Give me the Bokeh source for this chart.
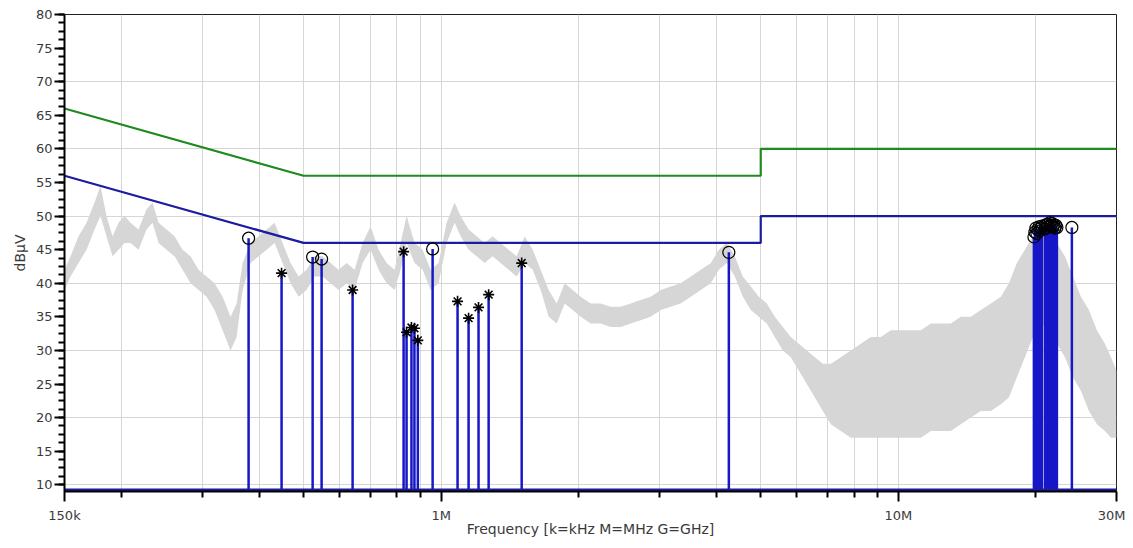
from bokeh.plotting import figure
from bokeh.models import Range1d, FixedTicker, SingleIntervalTicker
from bokeh.embed import file_html
from bokeh.resources import INLINE

# ---- limit lines (MHz, dBuV) ----
limit_freq = [0.15, 0.5, 5.0, 5.0, 30.0]
qp_limit = [66, 56, 56, 60, 60]
av_limit = [56, 46, 46, 50, 50]

# ---- spectrum trace envelope (MHz, dBuV) ----
trace_freq = [0.1500, 0.1546, 0.1610, 0.1676, 0.1745, 0.1798, 0.1853, 0.1911, 0.1969, 0.2030,
              0.2092, 0.2178, 0.2268, 0.2337, 0.2409, 0.2508, 0.2611, 0.2719, 0.2830, 0.2947,
              0.3068, 0.3194, 0.3326, 0.3462, 0.3569, 0.3678, 0.3829, 0.3987, 0.4151, 0.4322,
              0.4499, 0.4684, 0.4877, 0.5077, 0.5286, 0.5503, 0.5730, 0.5965, 0.6210, 0.6466,
              0.6731, 0.7008, 0.7296, 0.7597, 0.7909, 0.8151, 0.8402, 0.8747, 0.9107, 0.9481,
              0.9871, 1.0277, 1.0700, 1.1028, 1.1481, 1.1954, 1.2445, 1.2956, 1.3490, 1.4044,
              1.4627, 1.5228, 1.5855, 1.6506, 1.7184, 1.7893, 1.8626, 1.9391, 2.0188, 2.1232,
              2.2330, 2.3484, 2.4699, 2.5975, 2.7318, 2.8732, 3.0217, 3.1779, 3.3421, 3.5149,
              3.6967, 3.8881, 4.0480, 4.2145, 4.3881, 4.5686, 4.7564, 4.9521, 5.1559, 5.3676,
              5.5880, 5.8177, 6.0570, 6.3060, 6.5658, 6.8355, 7.1169, 7.4851, 7.8713, 8.2781,
              8.7054, 9.1553, 9.6279, 10.125, 10.648, 11.199, 11.777, 12.385, 13.024, 13.695,
              14.405, 15.152, 15.934, 16.758, 17.449, 18.165, 18.916, 19.692, 20.500, 21.343,
              22.221, 23.136, 24.087, 25.078, 26.110, 27.186, 28.303, 29.170, 30.0]
trace_lo = [39, 41, 43, 45, 48, 50, 47, 44, 45, 46,
            46, 45, 48, 49, 46, 45, 44, 42, 40, 39,
            38, 36, 33, 30, 32, 39, 43, 44, 45, 46,
            43, 40, 38, 39, 41, 41, 40, 39, 40, 39,
            43, 45, 42, 40, 39, 42, 46, 43, 42, 39,
            40, 46, 49, 47, 45, 44, 43, 44, 43, 42,
            41, 43, 42, 39, 35, 34, 37, 36, 35, 34,
            34, 33.5, 33.5, 34, 34.5, 35, 36, 36.5, 37, 38,
            39, 40, 42, 43, 41, 38, 36, 35, 34, 32,
            30, 29, 27, 25, 23, 21, 19, 18, 17, 17,
            17, 17, 17, 17, 17, 17, 18, 18, 18, 19,
            20, 21, 21, 22, 23, 26, 29, 32, 34, 33,
            31, 29, 26, 24, 21, 19, 18, 17, 17]
trace_hi = [42, 44, 47, 49, 52, 54.5, 50, 47, 49, 50,
            49, 48, 51, 52, 49, 48, 47, 45, 44, 42,
            41, 40, 38, 35, 37, 43, 46, 47, 48, 49,
            46, 43, 41, 42, 44, 44, 43, 42, 43, 42,
            46, 48.5, 45, 43, 42, 46, 50, 46, 45, 42,
            43, 49, 52, 50, 48, 47, 46, 47, 46, 45,
            44, 47, 45, 42, 39, 37, 40, 39, 38, 37,
            37, 36.5, 36.5, 37, 37.5, 38, 39, 39.5, 40, 41,
            42, 43, 45, 46, 44, 41, 39.5, 38, 37, 35,
            33.5, 32, 31, 30, 29, 28, 28, 29, 30, 31,
            32, 32, 33, 33, 33, 33, 34, 34, 34, 35,
            35, 36, 37, 38, 40, 43, 45, 47, 48, 47,
            46, 44, 41, 38, 36, 33, 31, 29, 27]

# ---- final measurement results ----
baseline_level = 9.2
qp_freq = [0.3791, 0.5234, 0.5476, 0.9578, 4.258,
           19.79, 19.89, 19.99, 20.09, 20.19, 20.29, 20.39, 20.50, 20.60,
           20.92, 21.02, 21.13, 21.23, 21.34, 21.45, 21.56, 21.67, 21.78,
           21.89, 22.00, 22.11, 22.22, 23.96]
qp_level = [46.7, 43.9, 43.6, 45.1, 44.6,
            46.9, 47.6, 48.2, 47.4, 48.0, 48.4, 47.8, 48.2, 48.5,
            48.1, 48.7, 48.3, 48.8, 48.5, 49.0, 48.6, 48.9, 48.4,
            48.7, 48.2, 48.6, 48.3, 48.3]
av_freq = [0.4476, 0.6401, 0.8276, 0.840, 0.861, 0.874, 0.889,
           1.086, 1.148, 1.207, 1.270, 1.500]
av_level = [41.5, 39.0, 44.7, 32.7, 33.4, 33.3, 31.5,
            37.3, 34.8, 36.4, 38.3, 43.0]

# ---- axis ticks ----
x_major = [0.15, 1, 10, 30]
x_minor = [0.2, 0.3, 0.4, 0.5, 0.6, 0.7, 0.8, 0.9,
           2, 3, 4, 5, 6, 7, 8, 9, 20]
x_labels = {0.15: "150k", 1: "1M", 10: "10M", 30: "30M"}
y_grid = [10, 20, 30, 40, 50, 60, 70, 80]

FONT = "DejaVu Sans"
TXT = "#3a3a3a"

p = figure(width=1125, height=539, x_axis_type="log",
           x_range=Range1d(0.15, 30), y_range=Range1d(9, 80),
           output_backend="svg", toolbar_location=None,
           min_border_left=64, min_border_right=9,
           min_border_top=14, min_border_bottom=48)
p.background_fill_color = "white"
p.border_fill_color = "white"
p.outline_line_color = "#222222"
p.outline_line_width = 1

# grids
p.xgrid.ticker = FixedTicker(ticks=sorted(x_major + x_minor))
p.ygrid.ticker = FixedTicker(ticks=y_grid)
p.xgrid.grid_line_color = "#d6d6d6"
p.ygrid.grid_line_color = "#d6d6d6"
p.xgrid.grid_line_width = 1
p.ygrid.grid_line_width = 1

# x axis
p.xaxis.ticker = FixedTicker(ticks=x_major, minor_ticks=x_minor)
p.xaxis.major_label_overrides = x_labels
p.xaxis.axis_label = "Frequency [k=kHz M=MHz G=GHz]"
# y axis
p.yaxis.ticker = SingleIntervalTicker(interval=5, num_minor_ticks=4)
p.yaxis.axis_label = "dBµV"

for ax in (p.xaxis, p.yaxis):
    ax.axis_line_color = "black"
    ax.axis_line_width = 2
    ax.major_tick_line_color = "black"
    ax.minor_tick_line_color = "black"
    ax.major_tick_line_width = 2
    ax.minor_tick_line_width = 2
    ax.major_tick_in = 0
    ax.minor_tick_in = 0
    ax.major_tick_out = 10
    ax.minor_tick_out = 6
    ax.major_label_text_font = FONT
    ax.major_label_text_font_size = "13px"
    ax.major_label_text_color = TXT
    ax.axis_label_text_font = FONT
    ax.axis_label_text_font_size = "14px"
    ax.axis_label_text_font_style = "normal"
    ax.axis_label_text_color = TXT
p.xaxis.major_label_standoff = 6
p.xaxis.axis_label_standoff = -5
p.yaxis.major_label_standoff = 2
p.yaxis.axis_label_standoff = 5

# spectrum trace
p.varea(x=trace_freq, y1=trace_lo, y2=trace_hi, fill_color="#d6d6d6")

# limits
p.line(limit_freq, qp_limit, line_color="#1f8a1f", line_width=2.2)
p.line(limit_freq, av_limit, line_color="#1c1c9e", line_width=2.2)

# stems
p.segment(x0=qp_freq, y0=[baseline_level] * len(qp_freq), x1=qp_freq, y1=qp_level,
          line_color="#1717c8", line_width=2.5)
p.segment(x0=av_freq, y0=[baseline_level] * len(av_freq), x1=av_freq, y1=av_level,
          line_color="#1717c8", line_width=2.5)
# baseline
p.line([0.15, 30], [baseline_level, baseline_level], line_color="#1c1c9e", line_width=3.5)

# markers
p.scatter(qp_freq, qp_level, marker="circle", size=12, fill_color=None,
          line_color="black", line_width=1.2)
p.scatter(av_freq, av_level, marker="asterisk", size=11,
          line_color="black", line_width=1.6)

open("out.html", "w").write(file_html(p, INLINE))
